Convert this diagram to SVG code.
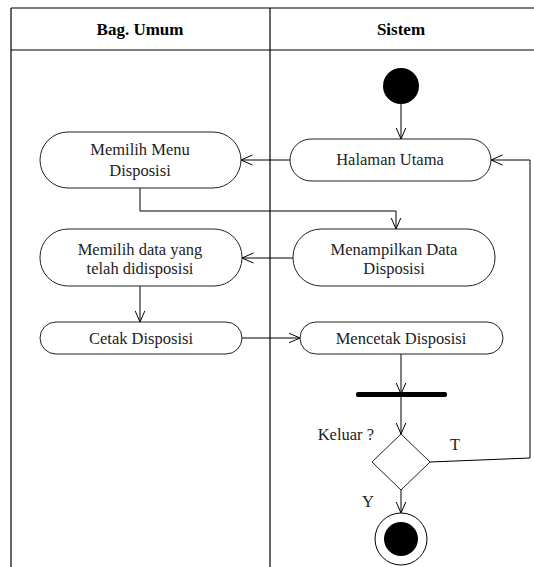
<svg xmlns="http://www.w3.org/2000/svg" width="534" height="567" viewBox="0 0 534 567">
<defs>
<marker id="arr" markerUnits="userSpaceOnUse" markerWidth="12" markerHeight="12" viewBox="0 0 12 12" refX="11.5" refY="6" orient="auto">
<path d="M0,1 L11.5,6 L0,11" fill="none" stroke="#000" stroke-width="1"/>
</marker>
</defs>
<style>
.frame{stroke:#000;stroke-width:1.2;fill:none}
.node{fill:#fff;stroke:#222;stroke-width:1}
.t{font-size:16.5px;fill:#222;text-anchor:middle}
.h{font-size:17px;font-weight:bold;fill:#000;text-anchor:middle}
.ca{stroke:#000;stroke-width:1;fill:none;marker-end:url(#arr)}
</style>
<rect width="534" height="567" fill="#fff"/>
<g id="swimlanes">
<line class="frame" x1="11" y1="8" x2="534" y2="8"/>
<line class="frame" x1="11" y1="50" x2="534" y2="50"/>
<line class="frame" x1="11" y1="8" x2="11" y2="567"/>
<line class="frame" x1="270" y1="8" x2="270" y2="567"/>
<text class="h" font-family="Liberation Serif, serif" x="140" y="35">Bag. Umum</text>
<text class="h" font-family="Liberation Serif, serif" x="401" y="35">Sistem</text>
</g>
<g id="connectors">
<line class="ca" x1="401" y1="104" x2="401" y2="139"/>
<line class="ca" x1="290" y1="160" x2="241" y2="160"/>
<polyline class="ca" points="140,188 140,211 396,211 396,229"/>
<line class="ca" x1="293" y1="258" x2="242" y2="258"/>
<line class="ca" x1="140" y1="286" x2="140" y2="322"/>
<line class="ca" x1="242" y1="338" x2="300" y2="338"/>
<line class="ca" x1="401" y1="354" x2="401" y2="394"/>
<line class="ca" x1="401" y1="397" x2="401" y2="434"/>
<polyline class="ca" points="430,462 530,458 530,160 491,160"/>
<line class="ca" x1="401" y1="490" x2="401" y2="513"/>
</g>
<g id="start"><circle cx="401" cy="86" r="18" fill="#000"/></g>
<g id="halaman-utama">
<rect class="node" x="290" y="139" width="201" height="42" rx="21"/>
<text class="t" font-family="Liberation Serif, serif" x="390" y="165">Halaman Utama</text>
</g>
<g id="memilih-menu">
<rect class="node" x="40" y="132" width="201" height="56" rx="28"/>
<text class="t" font-family="Liberation Serif, serif" x="140" y="155">Memilih Menu</text>
<text class="t" font-family="Liberation Serif, serif" x="140" y="176">Disposisi</text>
</g>
<g id="menampilkan-data">
<rect class="node" x="293" y="229" width="202" height="57" rx="28"/>
<text class="t" font-family="Liberation Serif, serif" x="394" y="255">Menampilkan Data</text>
<text class="t" font-family="Liberation Serif, serif" x="394" y="274">Disposisi</text>
</g>
<g id="memilih-data">
<rect class="node" x="40" y="229" width="202" height="57" rx="28"/>
<text class="t" font-family="Liberation Serif, serif" x="140" y="255">Memilih data yang</text>
<text class="t" font-family="Liberation Serif, serif" x="140" y="274">telah didisposisi</text>
</g>
<g id="cetak-disposisi">
<rect class="node" x="40" y="322" width="202" height="32" rx="16"/>
<text class="t" font-family="Liberation Serif, serif" x="141" y="344">Cetak Disposisi</text>
</g>
<g id="mencetak-disposisi">
<rect class="node" x="300" y="322" width="203" height="32" rx="16"/>
<text class="t" font-family="Liberation Serif, serif" x="401" y="344">Mencetak Disposisi</text>
</g>
<g id="fork-bar"><rect x="356" y="392" width="91" height="5" rx="2" fill="#000"/></g>
<g id="decision">
<polygon class="node" points="401,434 430,462 401,490 372,462"/>
<text class="t" font-family="Liberation Serif, serif" x="374" y="440" text-anchor="end" style="text-anchor:end">Keluar ?</text>
<text class="t" font-family="Liberation Serif, serif" x="455" y="450">T</text>
<text class="t" font-family="Liberation Serif, serif" x="368" y="507">Y</text>
</g>
<g id="end">
<circle cx="401" cy="539" r="26" fill="#fff" stroke="#000" stroke-width="1"/>
<circle cx="401" cy="539" r="17" fill="#000"/>
</g>
</svg>
